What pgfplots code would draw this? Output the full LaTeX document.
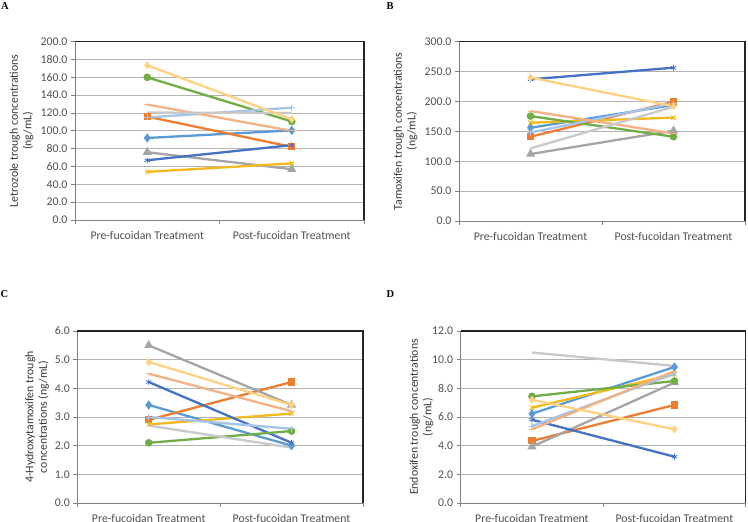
\documentclass[border=0pt]{standalone}
\usepackage{pgfplots}
\usepackage{pgfplotstable}
\pgfplotsset{compat=1.18}
\usepackage{fontspec}
\setmainfont{Carlito}
\newfontfamily\serifbold{Liberation Serif}
\usetikzlibrary{plotmarks}

\definecolor{c1}{HTML}{5B9BD5}
\definecolor{c2}{HTML}{ED7D31}
\definecolor{c3}{HTML}{A5A5A5}
\definecolor{c4}{HTML}{F2BA1E}
\definecolor{c5}{HTML}{4472C4}
\definecolor{c6}{HTML}{70AD47}
\definecolor{c7}{HTML}{A4C4EA}
\definecolor{c8}{HTML}{F4B183}
\definecolor{c9}{HTML}{C9C9C9}
\definecolor{c10}{HTML}{FFD283}
\definecolor{txt}{HTML}{505050}
\definecolor{gridc}{HTML}{B3B3B3}

% Panel A: Letrozole
\pgfplotstableread{
x s1 s2 s3 s4 s5 s6 s7 s8 s9 s10
0 92 116 76 54 67 160 115 129.5 120.5 173.5
1 100.5 82 57 63.5 84 110.5 126 100 120 113
}\tabA
% Panel B: Tamoxifen
\pgfplotstableread{
x s1 s2 s3 s4 s5 s6 s7 s8 s9 s10
0 156 141 112 164.5 237 175.5 148 184 121.5 240
1 194 199.5 151 173 256.5 141 197 146.5 191 192
}\tabB
% Panel C: 4-Hydroxytamoxifen
\pgfplotstableread{
x s1 s2 s3 s4 s5 s6 s7 s8 s9 s10
0 3.42 2.9 5.5 2.74 4.22 2.1 3.0 4.51 2.7 4.92
1 2.0 4.22 3.42 3.12 2.1 2.51 2.59 3.2 1.93 3.42
}\tabC
% Panel D: Endoxifen
\pgfplotstableread{
x s1 s2 s3 s4 s5 s6 s7 s8 s9 s10
0 6.23 4.33 3.93 6.65 5.81 7.44 5.37 5.14 10.5 7.2
1 9.49 6.84 8.4 8.98 3.23 8.51 9.02 9.2 9.56 5.14
}\tabD

\pgfplotsset{
  s1/.style={c1, line width=2.3pt, mark=diamond*, mark size=2.8pt},
  s2/.style={c2, line width=2.3pt, mark=square*, mark size=2.4pt},
  s3/.style={c3, line width=2.3pt, mark=triangle*, mark size=3pt},
  s4/.style={c4, line width=2.3pt, mark=x, mark size=3pt, mark options={line width=1pt}},
  s5/.style={c5, line width=2.3pt, mark=asterisk, mark size=3pt, mark options={line width=0.8pt}},
  s6/.style={c6, line width=2.3pt, mark=*, mark size=2.6pt},
  s7/.style={c7, line width=2.3pt, mark=+, mark size=3pt, mark options={line width=1pt}},
  s8/.style={c8, line width=2.3pt, mark=-, mark size=3pt, mark options={line width=1pt}},
  s9/.style={c9, line width=2.3pt, mark=none},
  s10/.style={c10, line width=2.3pt, mark=diamond*, mark size=2.3pt},
  panel/.style={
    scale only axis,
    font=\fontsize{11.8}{13.5}\selectfont,
    xmin=-0.5, xmax=1.5, ymin=0,
    xtick={0,1},
    xticklabels={Pre-fucoidan Treatment, Post-fucoidan Treatment},
    xtick style={draw=none},
    ytick style={draw=gray, line width=0.7pt},
    tick align=outside,
    major tick length=4pt,
    axis x line*=bottom,
    axis y line*=left,
    axis line style={gray, line width=0.8pt},
    ymajorgrids,
    grid style={gridc, line width=0.9pt},
    tick label style={text=txt},
    xticklabel style={yshift=-4pt},
    yticklabel style={/pgf/number format/.cd, fixed, fixed zerofill, precision=1, assume math mode=true},
    ylabel style={align=center, anchor=center, text=txt!70!black},
    clip=false,
    after end axis/.code={
      \draw[black!85, line width=1.3pt] (rel axis cs:0,1) -- (rel axis cs:1,1) -- (rel axis cs:1,0);
      \draw[gray, line width=0.7pt] (rel axis cs:0,0) -- ++(0pt,-4pt);
      \draw[gray, line width=0.7pt] (rel axis cs:0.5,0) -- ++(0pt,-4pt);
      \draw[gray, line width=0.7pt] (rel axis cs:1,0) -- ++(0pt,-4pt);
    },
  },
}

\begin{document}
\begin{tikzpicture}
\path[use as bounding box] (0pt,0pt) rectangle (748pt,522pt);
\clip (0pt,0pt) rectangle (748pt,522pt);
\begin{pgfinterruptboundingbox}

\node[font=\serifbold\bfseries\fontsize{10.5}{12}\selectfont] at (5pt,515.5pt) {A};
\node[font=\serifbold\bfseries\fontsize{10.5}{12}\selectfont] at (390pt,515.5pt) {B};
\node[font=\serifbold\bfseries\fontsize{10.5}{12}\selectfont] at (4.5pt,227.5pt) {C};
\node[font=\serifbold\bfseries\fontsize{10.5}{12}\selectfont] at (390.5pt,228pt) {D};

\begin{axis}[panel, at={(75pt,302pt)}, anchor=south west, width=289pt, height=178.3pt,
  ymax=200, ytick distance=20,
  ylabel={Letrozole trough concentrations\\(ng/mL)},
  ylabel style={at={(axis description cs:-0.185,0.5)}}]
\pgfplotsinvokeforeach{1,...,10}{\addplot[s#1] table[x=x,y=s#1]{\tabA};}
\end{axis}

\begin{axis}[panel, at={(459pt,301pt)}, anchor=south west, width=286pt, height=179.3pt,
  ymax=300, ytick distance=50,
  ylabel={Tamoxifen trough concentrations\\(ng/mL)},
  ylabel style={at={(axis description cs:-0.187,0.5)}}]
\pgfplotsinvokeforeach{1,...,10}{\addplot[s#1] table[x=x,y=s#1]{\tabB};}
\end{axis}

\begin{axis}[panel, at={(77.3pt,19pt)}, anchor=south west, width=285.7pt, height=172pt,
  ymax=6, ytick distance=1,
  ylabel={4-Hydroxytamoxifen trough\\concentrations (ng/mL)},
  ylabel style={at={(axis description cs:-0.141,0.5)}}]
\pgfplotsinvokeforeach{1,...,10}{\addplot[s#1] table[x=x,y=s#1]{\tabC};}
\end{axis}

\begin{axis}[panel, at={(460.7pt,19pt)}, anchor=south west, width=285pt, height=172pt,
  ymax=12, ytick distance=2,
  ylabel={Endoxifen trough concentrations\\(ng/mL)},
  ylabel style={at={(axis description cs:-0.137,0.5)}}]
\pgfplotsinvokeforeach{1,...,10}{\addplot[s#1] table[x=x,y=s#1]{\tabD};}
\end{axis}
\end{pgfinterruptboundingbox}
\end{tikzpicture}
\end{document}
